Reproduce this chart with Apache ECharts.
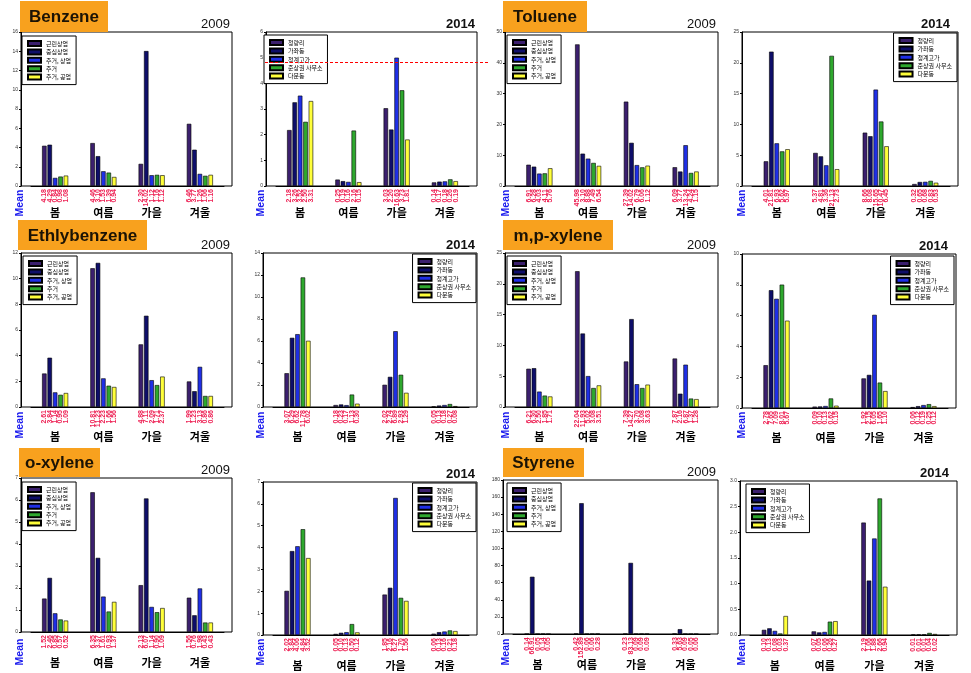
<!DOCTYPE html>
<html><head><meta charset="utf-8">
<script src="https://cdn.jsdelivr.net/npm/echarts@6/dist/echarts.min.js"></script>
<style>html,body{margin:0;padding:0;background:#fff}#c{width:971px;height:673px}</style>
</head><body><div id="c"></div>
<script>
// ---------- DATA ----------
const seasons = ['봄', '여름', '가을', '겨울'];
const names2009 = ['근린상업', '중심상업', '주거, 상업', '주거', '주거, 공업'];
const names2014 = ['청량리', '가좌동', '청계고가', '준상권 사무소', '다문동'];
const compounds = ['Benzene', 'Toluene', 'Ethlybenzene', 'm,p-xylene', 'o-xylene', 'Styrene'];
const years = ['2009', '2014'];

// rows = seasons (봄, 여름, 가을, 겨울), columns = 5 sites
const benzene2009 = [[4.18,4.29,0.84,0.98,1.08],[4.46,3.10,1.53,1.39,0.94],[2.30,14.02,1.12,1.16,1.12],[6.46,3.77,1.26,1.06,1.16]];
const benzene2014 = [[2.18,3.26,3.52,2.50,3.31],[0.25,0.19,0.16,2.16,0.15],[3.03,2.20,5.00,3.73,1.81],[0.14,0.17,0.18,0.26,0.19]];
const benzene2014Text = [['2.18','3.26','3.52','2.50','3.31'],['0.25','0.19','0.16','2.16','0.15'],['3.03','2.20','16.63','3.73','1.81'],['0.14','0.17','0.18','0.26','0.19']];
const toluene2009 = [[6.91,6.28,4.03,4.11,5.76],[45.98,10.50,8.88,7.49,6.54],[27.39,14.02,6.79,6.06,6.60],[6.09,4.70,13.24,4.24,4.70]];
const toluene2009Text = [['6.91','6.28','4.03','4.11','5.76'],['45.98','3.10','8.88','7.49','6.54'],['27.39','14.02','6.79','6.06','1.12'],['6.09','3.77','13.24','4.24','1.15']];
const toluene2014 = [[4.01,21.81,6.93,5.62,5.97],[5.37,4.81,3.36,21.13,2.73],[8.66,8.08,15.65,10.47,6.45],[0.32,0.65,0.68,0.83,0.53]];
const ethylbenzene2009 = [[2.61,3.84,1.14,0.95,1.09],[10.81,11.23,2.23,1.66,1.56],[4.88,7.11,2.09,1.71,2.37],[1.99,1.23,3.13,0.86,0.86]];
const ethylbenzene2014 = [[3.07,6.29,6.62,11.78,6.02],[0.18,0.23,0.17,1.13,0.30],[2.02,2.74,6.89,2.93,1.29],[0.05,0.13,0.18,0.27,0.08]];
const mpXylene2009 = [[6.21,6.30,2.50,1.85,1.71],[22.04,11.93,5.02,3.08,3.51],[7.39,14.27,3.70,3.08,3.63],[7.87,2.16,6.87,1.37,1.28]];
const mpXylene2014 = [[2.78,7.65,7.09,8.01,5.67],[0.09,0.10,0.13,0.62,0.15],[1.92,2.15,6.05,1.65,1.10],[0.06,0.12,0.19,0.25,0.12]];
const oXylene2009 = [[1.52,2.46,0.85,0.57,0.52],[6.35,3.37,1.61,0.93,1.37],[2.13,6.07,1.14,0.90,1.09],[1.56,0.76,1.98,0.43,0.43]];
const oXylene2014 = [[2.02,3.84,4.06,4.84,3.52],[0.05,0.10,0.13,0.50,0.12],[1.85,2.16,6.27,1.70,1.56],[0.06,0.13,0.16,0.21,0.18]];
const styrene2009 = [[0.14,66.91,0.05,0.14,0.05],[0.42,152.89,0.06,0.06,0.28],[0.23,83.13,0.09,0.09,0.09],[0.33,5.63,0.09,0.05,0.06]];
const styrene2014 = [[0.10,0.13,0.08,0.03,0.37],[0.07,0.05,0.06,0.26,0.27],[2.19,1.06,1.88,2.66,0.94],[0.01,0.01,0.01,0.04,0.02]];

const yMax  = [16, 6, 50, 25, 12, 14, 25, 10, 7, 7, 180, 3];
const yStep = [ 2, 1, 10,  5,  2,  2,  5,  2, 1, 1,  20, 0.5];
const benzeneLimit2014 = 4.85;

const panelValues = [benzene2009, benzene2014, toluene2009, toluene2014,
  ethylbenzene2009, ethylbenzene2014, mpXylene2009, mpXylene2014,
  oXylene2009, oXylene2014, styrene2009, styrene2014];
const panelText = {1: benzene2014Text, 2: toluene2009Text};

// ---------- LAYOUT / STYLE ----------
const barColors = ['#3b1f6e', '#0e0e6a', '#1f2fe6', '#2ea82e', '#ffff3a'];
const frames = [[21,32,232,186],[266,32,477,186],[505,32,718,186],[742,32,958,186],
  [21,253,232,407],[263,253,477,407],[505,253,718,407],[742,254,956,408],
  [21,478,232,632],[263,482,477,635],[503,480,718,634],[740,481,957,635]];
const legendPos = [{left:22,top:36},{left:264,top:35},{left:507,top:35},{right:14,top:33},
  {left:23,top:256},{right:495,top:254},{left:507,top:256},{right:17,top:256},
  {left:22,top:482},{right:495,top:483},{left:507,top:483},{left:746,top:484}];
const titleBoxes = [[20,1,88,31],[503,1,84,31],[18,220,129,30],[503,220,110,30],[19,448,81,29],[503,448,81,29]];
const seasonMargin = [21.5, 24.5, 25.5];
const meanY = [203, 425, 652];
const meanX = [20, 261, 506, 742];

const chart = echarts.init(document.getElementById('c'), null, {renderer: 'canvas'});
const grid = [], xAxis = [], yAxis = [], series = [], legend = [], graphic = [];

panelValues.forEach((vals, i) => {
  const [l, t, r, b] = frames[i];
  const row = Math.floor(i / 4), col = i % 4;
  const is2014 = i % 2 === 1;
  const names = is2014 ? names2014 : names2009;
  // frame grid
  grid.push({left: l, top: t, width: r - l, height: b - t, show: true, borderColor: '#000', borderWidth: 1, backgroundColor: 'rgba(0,0,0,0)'});
  xAxis.push({gridIndex: 2 * i, type: 'value', show: false});
  yAxis.push({gridIndex: 2 * i, type: 'value', show: false});
  // bar grid
  grid.push({left: l + 10, top: t, width: r - l - 18, height: b - t, show: false});
  xAxis.push({gridIndex: 2 * i + 1, type: 'category', data: seasons,
    axisLine: {show: true, lineStyle: {color: '#000', width: 1}}, axisTick: {show: false},
    axisLabel: {interval: 0, margin: seasonMargin[row], fontSize: 11, fontWeight: 'bold', color: '#000', fontFamily: 'Noto Sans CJK KR'}});
  const step = yStep[i];
  yAxis.push({gridIndex: 2 * i + 1, type: 'value', min: 0, max: yMax[i], interval: step, offset: 10,
    axisLine: {show: true, lineStyle: {color: '#000'}}, axisTick: {show: true, length: 2, lineStyle: {color: '#000'}},
    splitLine: {show: false},
    axisLabel: {fontSize: 5, margin: 3, color: '#333', fontFamily: 'Liberation Sans',
      formatter: v => step < 1 ? v.toFixed(1) : String(v)}});
  const txt = panelText[i];
  for (let k = 0; k < 5; k++) {
    series.push({type: 'bar', name: names[k], xAxisIndex: 2 * i + 1, yAxisIndex: 2 * i + 1,
      data: vals.map(rw => rw[k]), barWidth: 4.5, barGap: '20%',
      itemStyle: {color: barColors[k], borderColor: '#000', borderWidth: 0.6},
      label: {show: true, position: 'bottom', distance: 3, rotate: 90, align: 'right', verticalAlign: 'middle',
        fontSize: 7, fontWeight: 'bold', color: '#ee2255', fontFamily: 'Liberation Sans',
        formatter: p => txt ? txt[p.dataIndex][k] : vals[p.dataIndex][k].toFixed(2)},
      emphasis: {disabled: true}, animation: false});
  }
  legend.push(Object.assign({data: names, orient: 'vertical', align: 'left', icon: 'rect',
    itemWidth: 13, itemHeight: 5, itemGap: 1.4, padding: [4, 5, 4, 5],
    borderColor: '#000', borderWidth: 1, backgroundColor: '#fff', selectedMode: false,
    textStyle: {fontSize: 6, lineHeight: 6, color: '#000', fontFamily: 'Noto Sans CJK KR'}}, legendPos[i]));
  // year label
  graphic.push({type: 'text', x: r - (col === 3 ? 8 : 2), y: t - 7.5, z: 10,
    style: {text: is2014 ? years[1] : years[0], fontSize: 13, fontWeight: is2014 ? 'bold' : 'normal',
      fill: '#111', align: 'right', verticalAlign: 'middle', fontFamily: 'Liberation Sans'}});
  // Mean label
  graphic.push({type: 'text', x: meanX[col], y: meanY[row], rotation: Math.PI / 2, z: 10,
    style: {text: 'Mean', fontSize: 10.5, fontWeight: 'bold', fill: '#1a1aee', align: 'center', verticalAlign: 'middle', fontFamily: 'Liberation Sans'}});
});

compounds.forEach((name, j) => {
  const [x, y, w, h] = titleBoxes[j];
  graphic.push({type: 'rect', shape: {x, y, width: w, height: h}, style: {fill: '#F8A11E'}, z: 5});
  graphic.push({type: 'text', x: x + w / 2, y: y + h / 2 + 1, z: 6,
    style: {text: name, fontSize: 17, fontWeight: 'bold', fill: '#1b1305', align: 'center', verticalAlign: 'middle', fontFamily: 'Liberation Sans'}});
});

chart.setOption({animation: false, backgroundColor: '#fff', grid, xAxis, yAxis, series, legend, graphic});

// red dashed reference line in Benzene 2014 panel
const yLine = Math.round(chart.convertToPixel({yAxisIndex: 3}, benzeneLimit2014)) + 0.5;
graphic.push({type: 'line', z: 50, silent: true, shape: {x1: frames[1][0] - 1, y1: yLine, x2: frames[1][2] + 11, y2: yLine},
  style: {stroke: '#ff0000', fill: null, lineWidth: 1.2, lineDash: [3, 2]}});
chart.setOption({graphic: graphic});
</script>
</body></html>
